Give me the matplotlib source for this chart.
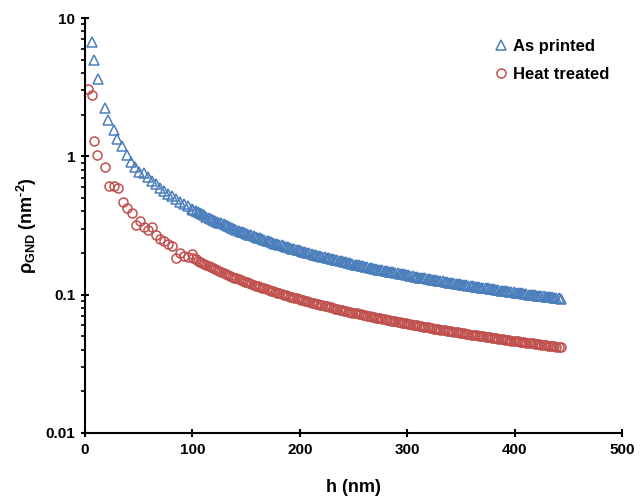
import matplotlib
matplotlib.use("Agg")
import matplotlib.pyplot as plt
from matplotlib.ticker import LogLocator, FixedLocator, NullFormatter, FuncFormatter

plt.rcParams['font.family'] = ['Liberation Sans', 'DejaVu Sans']
plt.rcParams['font.weight'] = 'bold'
plt.rcParams['mathtext.fontset'] = 'custom'
plt.rcParams['mathtext.rm'] = 'Liberation Sans:bold'
plt.rcParams['mathtext.bf'] = 'Liberation Sans:bold'
plt.rcParams['mathtext.it'] = 'Liberation Sans:bold'

# Indentation depth h (nm) and GND density (nm^-2)
h_printed_start = [6.8, 8.7, 11.8, 18.6, 21.7, 26.7, 30.1, 34.2, 38.8, 42.8, 46.6, 50.6]
rho_printed_start = [6.67, 4.94, 3.62, 2.23, 1.84, 1.54, 1.34, 1.18, 1.03, 0.91, 0.837, 0.77]

h_treated_start = [2.5, 6.8, 8.7, 11.6, 18.6, 22.3, 27.0, 31.0, 35.7, 39.4, 43.5, 47.5, 51.2]
rho_treated_start = [3.05, 2.77, 1.29, 1.03, 0.837, 0.614, 0.61, 0.594, 0.47, 0.426, 0.389,
                     0.321, 0.339]

h_mid = [54.9, 58.6, 62.3, 66.0, 69.7, 73.4, 77.1, 80.8, 84.5, 88.2, 91.9, 95.6, 99.3]
rho_printed_mid = [0.756, 0.708, 0.666, 0.629, 0.595, 0.565, 0.538, 0.514, 0.491, 0.471,
                   0.452, 0.434, 0.418]
rho_treated_mid = [0.308, 0.295, 0.308, 0.268, 0.254, 0.243, 0.234, 0.224, 0.185, 0.200,
                   0.190, 0.187, 0.196]

h_far = [101, 103, 105, 107, 109, 111, 113, 115, 117, 119,
         121, 123, 125, 127, 129, 131, 133, 135, 137, 139,
         141, 143, 145, 147, 149, 151, 153, 155, 157, 159,
         161, 163, 165, 167, 169, 171, 173, 175, 177, 179,
         181, 183, 185, 187, 189, 191, 193, 195, 197, 199,
         201, 203, 205, 207, 209, 211, 213, 215, 217, 219,
         221, 223, 225, 227, 229, 231, 233, 235, 237, 239,
         241, 243, 245, 247, 249, 251, 253, 255, 257, 259,
         261, 263, 265, 267, 269, 271, 273, 275, 277, 279,
         281, 283, 285, 287, 289, 291, 293, 295, 297, 299,
         301, 303, 305, 307, 309, 311, 313, 315, 317, 319,
         321, 323, 325, 327, 329, 331, 333, 335, 337, 339,
         341, 343, 345, 347, 349, 351, 353, 355, 357, 359,
         361, 363, 365, 367, 369, 371, 373, 375, 377, 379,
         381, 383, 385, 387, 389, 391, 393, 395, 397, 399,
         401, 403, 405, 407, 409, 411, 413, 415, 417, 419,
         421, 423, 425, 427, 429, 431, 433, 435, 437, 439,
         441, 443]

rho_printed_far = [
    0.411, 0.403, 0.395, 0.388, 0.381, 0.374, 0.367, 0.361, 0.355, 0.349,
    0.343, 0.337, 0.332, 0.327, 0.322, 0.317, 0.312, 0.307, 0.303, 0.299,
    0.294, 0.290, 0.286, 0.282, 0.279, 0.275, 0.271, 0.268, 0.264, 0.261,
    0.258, 0.255, 0.252, 0.249, 0.246, 0.243, 0.240, 0.237, 0.234, 0.232,
    0.229, 0.227, 0.224, 0.222, 0.220, 0.217, 0.215, 0.213, 0.211, 0.209,
    0.206, 0.204, 0.202, 0.200, 0.199, 0.197, 0.195, 0.193, 0.191, 0.189,
    0.188, 0.186, 0.184, 0.183, 0.181, 0.180, 0.178, 0.177, 0.175, 0.174,
    0.172, 0.171, 0.169, 0.168, 0.167, 0.165, 0.164, 0.163, 0.161, 0.160,
    0.159, 0.158, 0.157, 0.155, 0.154, 0.153, 0.152, 0.151, 0.150, 0.149,
    0.148, 0.147, 0.146, 0.145, 0.144, 0.143, 0.142, 0.141, 0.140, 0.139,
    0.138, 0.137, 0.136, 0.135, 0.134, 0.133, 0.133, 0.132, 0.131, 0.130,
    0.129, 0.128, 0.128, 0.127, 0.126, 0.125, 0.125, 0.124, 0.123, 0.122,
    0.122, 0.121, 0.120, 0.120, 0.119, 0.118, 0.118, 0.117, 0.116, 0.116,
    0.115, 0.114, 0.114, 0.113, 0.112, 0.112, 0.111, 0.111, 0.110, 0.109,
    0.109, 0.108, 0.108, 0.107, 0.107, 0.106, 0.106, 0.105, 0.105, 0.104,
    0.103, 0.103, 0.102, 0.102, 0.101, 0.101, 0.100, 0.100, 0.0995, 0.0990,
    0.0986, 0.0981, 0.0976, 0.0972, 0.0967, 0.0963, 0.0958, 0.0954, 0.0950, 0.0945,
    0.0941, 0.0937]

rho_treated_far = [
    0.183, 0.180, 0.176, 0.173, 0.170, 0.167, 0.164, 0.161, 0.158, 0.155,
    0.153, 0.150, 0.148, 0.146, 0.143, 0.141, 0.139, 0.137, 0.135, 0.133,
    0.131, 0.129, 0.128, 0.126, 0.124, 0.123, 0.121, 0.119, 0.118, 0.116,
    0.115, 0.113, 0.112, 0.111, 0.109, 0.108, 0.107, 0.106, 0.105, 0.103,
    0.102, 0.101, 0.100, 0.0989, 0.0979, 0.0969, 0.0959, 0.0949, 0.0939, 0.0930,
    0.0920, 0.0911, 0.0902, 0.0894, 0.0885, 0.0877, 0.0869, 0.0860, 0.0853, 0.0845,
    0.0837, 0.0830, 0.0822, 0.0815, 0.0808, 0.0801, 0.0794, 0.0787, 0.0781, 0.0774,
    0.0768, 0.0761, 0.0755, 0.0749, 0.0743, 0.0737, 0.0731, 0.0725, 0.0720, 0.0714,
    0.0709, 0.0703, 0.0698, 0.0693, 0.0688, 0.0683, 0.0678, 0.0673, 0.0668, 0.0663,
    0.0658, 0.0654, 0.0649, 0.0645, 0.0640, 0.0636, 0.0631, 0.0627, 0.0623, 0.0619,
    0.0615, 0.0611, 0.0607, 0.0603, 0.0599, 0.0595, 0.0591, 0.0587, 0.0584, 0.0580,
    0.0576, 0.0573, 0.0569, 0.0566, 0.0562, 0.0559, 0.0556, 0.0552, 0.0549, 0.0546,
    0.0543, 0.0539, 0.0536, 0.0533, 0.0530, 0.0527, 0.0524, 0.0521, 0.0518, 0.0515,
    0.0512, 0.0510, 0.0507, 0.0504, 0.0501, 0.0499, 0.0496, 0.0493, 0.0491, 0.0488,
    0.0486, 0.0483, 0.0481, 0.0478, 0.0476, 0.0473, 0.0471, 0.0468, 0.0466, 0.0464,
    0.0461, 0.0459, 0.0457, 0.0455, 0.0452, 0.0450, 0.0448, 0.0446, 0.0444, 0.0442,
    0.0439, 0.0437, 0.0435, 0.0433, 0.0431, 0.0429, 0.0427, 0.0425, 0.0423, 0.0421,
    0.0420, 0.0418]

series_labels = ["As printed", "Heat treated"]
x_ticks = [0, 100, 200, 300, 400, 500]
y_ticks = [0.01, 0.1, 1, 10]

BLUE = "#4a7ebb"
RED = "#c0504d"

fig = plt.figure(figsize=(6.44, 5.01), dpi=100)
ax = fig.add_axes([85 / 644, 68 / 501, 537 / 644, 415 / 501])

h_printed = h_printed_start + h_mid + h_far
rho_printed = rho_printed_start + rho_printed_mid + rho_printed_far
h_treated = h_treated_start + h_mid + h_far
rho_treated = rho_treated_start + rho_treated_mid + rho_treated_far

ax.plot(h_printed, rho_printed, linestyle="none", marker="^", markersize=6.5,
        markerfacecolor="none", markeredgecolor=BLUE, markeredgewidth=1.1,
        label=series_labels[0])
ax.plot(h_treated, rho_treated, linestyle="none", marker="o", markersize=6.5,
        markerfacecolor="none", markeredgecolor=RED, markeredgewidth=1.1,
        label=series_labels[1])

ax.set_yscale("log")
ax.set_xlim(x_ticks[0], x_ticks[-1])
ax.set_ylim(y_ticks[0], y_ticks[-1])

ax.xaxis.set_major_locator(FixedLocator(x_ticks))
ax.yaxis.set_major_locator(FixedLocator(y_ticks))
ax.yaxis.set_major_formatter(FuncFormatter(lambda v, p: f"{v:g}"))
ax.yaxis.set_minor_locator(LogLocator(base=10, subs=range(2, 10)))
ax.yaxis.set_minor_formatter(NullFormatter())

for side in ("top", "right"):
    ax.spines[side].set_visible(False)
for side in ("left", "bottom"):
    ax.spines[side].set_linewidth(1.5)

ax.tick_params(axis="both", which="major", direction="inout", length=6, width=1.5,
               labelsize=11, pad=4)
ax.tick_params(axis="y", which="minor", direction="out", length=3, width=1.2)

ax.set_xlabel("h (nm)", fontsize=13, fontweight="bold", labelpad=16)
ax.set_ylabel(r"ρ$_{\mathbf{GND}}$ (nm$^{\text{-2}}$)", fontsize=13,
              fontweight="bold", labelpad=5)

ax.legend(loc="upper left", bbox_to_anchor=(0.762, 0.950), frameon=False,
          fontsize=12, handlelength=0.8, handletextpad=0.3, labelspacing=0.8,
          markerscale=1.0, borderaxespad=0.0, borderpad=0.0)

fig.savefig("out.png", dpi=100)
